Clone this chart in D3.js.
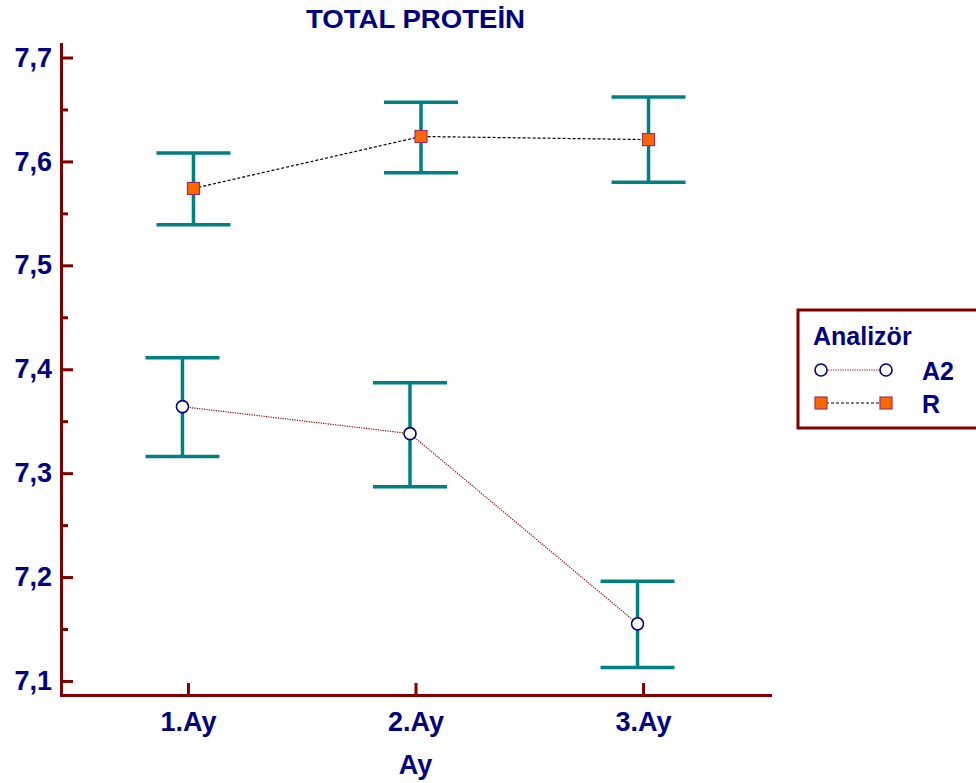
<!DOCTYPE html>
<html>
<head>
<meta charset="utf-8">
<script src="https://cdn.jsdelivr.net/npm/d3@7"></script>
<style>
  html, body { margin: 0; padding: 0; background: #fff; }
  svg { display: block; font-family: "Liberation Sans", Arial, sans-serif; font-weight: bold; }
</style>
</head>
<body>
<svg id="chart" width="976" height="783"></svg>
<script>
// Months on the x axis
const categories = ["1.Ay", "2.Ay", "3.Ay"];
// Analyzer groups
const seriesNames = ["A2", "R"];
// Means and interval bounds per month
const a2Mean  = [7.364, 7.338, 7.155];
const a2Low   = [7.316, 7.287, 7.113];
const a2High  = [7.411, 7.387, 7.196];
const rMean   = [7.574, 7.624, 7.621];
const rLow    = [7.539, 7.589, 7.580];
const rHigh   = [7.608, 7.657, 7.662];
// Axis ticks
const majorTicks = [7.1, 7.2, 7.3, 7.4, 7.5, 7.6, 7.7];
const minorTicks = [7.15, 7.25, 7.35, 7.45, 7.55, 7.65];

const navy = "#000080", axisCol = "#800000", teal = "#008080";
const svg = d3.select("#chart");

const x = d3.scalePoint().domain(categories).range([61, 770]).padding(0.558);
const y = d3.scaleLinear().domain([7.0865, 7.713]).range([695, 44]);

const comma = d3.formatLocale({decimal: ",", thousands: ".", grouping: [3], currency: ["", ""]}).format(".1f");

// Title
svg.append("text").attr("x", 415.5).attr("y", 28).attr("text-anchor", "middle")
  .attr("font-size", 26).attr("textLength", 219).attr("lengthAdjust", "spacingAndGlyphs")
  .attr("fill", navy).text("TOTAL PROTEİN");

// Y axis (ticks pointing inward)
const gy = svg.append("g").attr("transform", "translate(61,0)")
  .call(d3.axisLeft(y).tickValues(majorTicks).tickFormat(comma).tickSize(-12).tickSizeOuter(0).tickPadding(9));
svg.append("g").attr("transform", "translate(61,0)")
  .call(d3.axisLeft(y).tickValues(minorTicks).tickFormat("").tickSize(-7).tickSizeOuter(0))
  .call(g => g.select(".domain").remove())
  .selectAll("line").attr("stroke", axisCol).attr("stroke-width", 3);

// X axis (ticks pointing inward)
const gx = svg.append("g").attr("transform", "translate(0,695)")
  .call(d3.axisBottom(x).tickSize(-12).tickSizeOuter(0).tickPadding(17));

[gy, gx].forEach(g => {
  g.select(".domain").attr("stroke", axisCol).attr("stroke-width", 3).attr("stroke-linecap", "square");
  g.selectAll(".tick line").attr("stroke", axisCol).attr("stroke-width", 3);
  g.selectAll(".tick text").attr("fill", navy).attr("font-size", 27)
    .attr("font-family", "Liberation Sans, Arial, sans-serif").attr("font-weight", "bold");
});

// X axis title
svg.append("text").attr("x", 415.5).attr("y", 774).attr("text-anchor", "middle")
  .attr("font-size", 27).attr("fill", navy).text("Ay");

const series = [
  {name: "A2", mean: a2Mean, low: a2Low, high: a2High, dx: -5.5, line: "#990000", dash: "1.2,1.2", shape: "circle"},
  {name: "R",  mean: rMean,  low: rLow,  high: rHigh,  dx: 5.5,  line: "#000000", dash: "3,2", shape: "square"}
];

series.forEach(s => {
  const pts = categories.map((c, i) => ({x: x(c) + s.dx, m: s.mean[i], lo: s.low[i], hi: s.high[i]}));
  const g = svg.append("g");
  // error bars
  pts.forEach(p => {
    g.append("line").attr("x1", p.x).attr("x2", p.x).attr("y1", y(p.lo)).attr("y2", y(p.hi))
      .attr("stroke", teal).attr("stroke-width", 3.5);
    [p.lo, p.hi].forEach(v => g.append("line").attr("x1", p.x - 37).attr("x2", p.x + 37)
      .attr("y1", y(v)).attr("y2", y(v)).attr("stroke", teal).attr("stroke-width", 3.5));
  });
  // connecting line
  g.append("path").datum(pts)
    .attr("d", d3.line().x(d => d.x).y(d => y(d.m)))
    .attr("fill", "none").attr("stroke", s.line).attr("stroke-width", 1.2).attr("stroke-dasharray", s.dash);
  // markers
  pts.forEach(p => drawMarker(g, s.shape, p.x, y(p.m)));
});

function drawMarker(g, shape, cx, cy) {
  if (shape === "circle") {
    g.append("circle").attr("cx", cx).attr("cy", cy).attr("r", 6)
      .attr("fill", "#fff").attr("stroke", navy).attr("stroke-width", 1.6);
  } else {
    g.append("rect").attr("x", cx - 6).attr("y", cy - 6).attr("width", 12).attr("height", 12)
      .attr("fill", "#ff6600").attr("stroke", "#993366").attr("stroke-width", 1.2);
  }
}

// Legend
const lg = svg.append("g");
lg.append("rect").attr("x", 798).attr("y", 310).attr("width", 200).attr("height", 118)
  .attr("fill", "#fff").attr("stroke", axisCol).attr("stroke-width", 3);
lg.append("text").attr("x", 813).attr("y", 345).attr("font-size", 25).attr("fill", navy).text("Analizör");
series.forEach((s, i) => {
  const cy = 370 + i * 33;
  lg.append("line").attr("x1", 821).attr("x2", 886).attr("y1", cy).attr("y2", cy)
    .attr("stroke", s.line).attr("stroke-width", 1.2).attr("stroke-dasharray", s.dash);
  drawMarker(lg, s.shape, 821, cy);
  drawMarker(lg, s.shape, 886, cy);
  lg.append("text").attr("x", 922).attr("y", cy + 10).attr("font-size", 25).attr("fill", navy).text(seriesNames[i]);
});
</script>
</body>
</html>
